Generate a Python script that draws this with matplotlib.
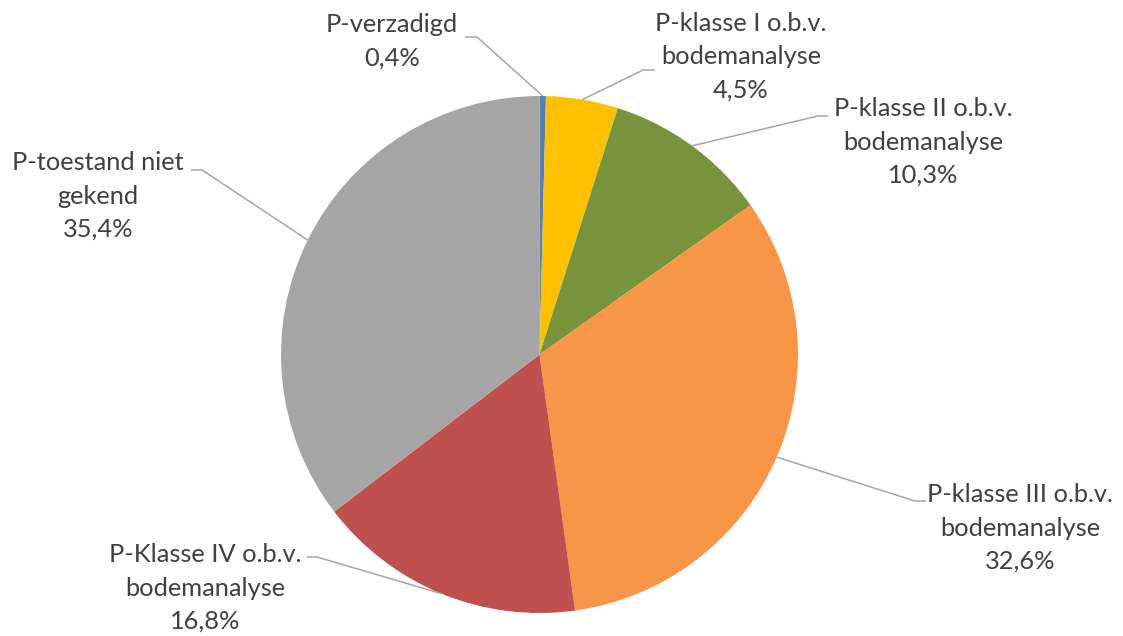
import matplotlib.pyplot as plt
import numpy as np

labels = ["P-verzadigd", "P-klasse I o.b.v.\nbodemanalyse", "P-klasse II o.b.v.\nbodemanalyse",
          "P-klasse III o.b.v.\nbodemanalyse", "P-Klasse IV o.b.v.\nbodemanalyse", "P-toestand niet\ngekend"]
values = [0.4, 4.5, 10.3, 32.6, 16.8, 35.4]
kleuren = ["#4F81BD", "#FFC000", "#77933C", "#F79646", "#C0504D", "#A5A5A5"]

# label layout in pixels (top-down): text centre, elbow of leader, end of leader
tekst_pos = [(392, 41), (741, 57), (923, 142), (1020, 528), (205, 588), (98, 196)]
knik_pos = [(477, 37), (643, 70), (818, 116), (915, 501), (317, 557), (202, 170)]
eind_pos = [(465, 37), (655, 70), (828, 116), (926, 501), (307, 557), (191, 170)]

W, H = 1123, 636
cx, cy, r = 539.5, 354.5, 258.5

fig = plt.figure(figsize=(W / 100, H / 100), dpi=100)
ax = fig.add_axes([0, 0, 1, 1])
ax.set_xlim(0, W)
ax.set_ylim(0, H)
ax.set_aspect("equal")
ax.axis("off")

wedges, _ = ax.pie(values, colors=kleuren, startangle=90, counterclock=False,
                   center=(cx, H - cy), radius=r, wedgeprops={"linewidth": 0})
ax.set_xlim(0, W)
ax.set_ylim(0, H)

for i, w in enumerate(wedges):
    mid = np.deg2rad((w.theta1 + w.theta2) / 2)
    ax_x = cx + r * np.cos(mid)
    ax_y = (H - cy) + r * np.sin(mid)
    kx, ky = knik_pos[i]
    ex, ey = eind_pos[i]
    ax.plot([ax_x, kx, ex], [ax_y, H - ky, H - ey], color="#A6A6A6", lw=1.1,
            solid_capstyle="butt")
    tekst = labels[i] + "\n" + ("%.1f%%" % values[i]).replace(".", ",")
    tx, ty = tekst_pos[i]
    ax.text(tx, H - ty, tekst, ha="center", va="center", fontsize=18.3,
            family="Lato", color="#404040", linespacing=1.55)

fig.savefig("out.png", dpi=100)
